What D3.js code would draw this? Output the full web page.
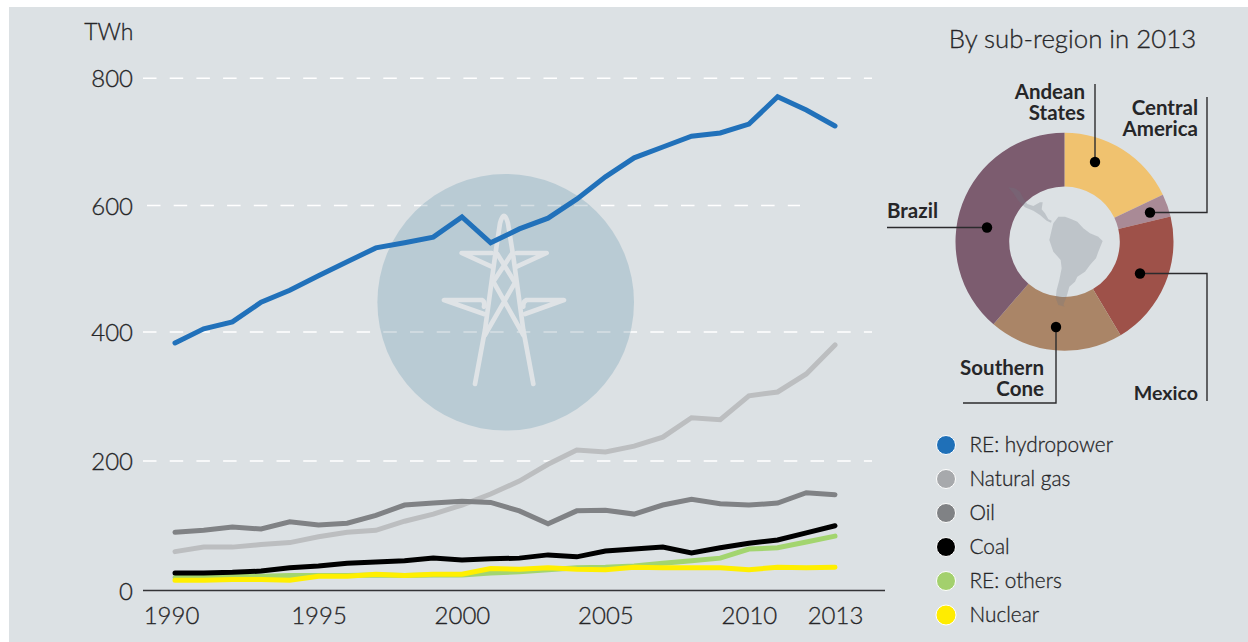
<!DOCTYPE html>
<html><head><meta charset="utf-8">
<style>
html,body{margin:0;padding:0;background:#fff;overflow:hidden}
text{font-family:Lato,"Open Sans",sans-serif;fill:#262628}
.lt{stroke:#262628;stroke-width:0.3px}
</style>
<script src="https://cdnjs.cloudflare.com/ajax/libs/d3/7.8.5/d3.min.js"></script>
</head><body><svg id="c" width="1248" height="642"></svg>
<script>
const years = d3.range(1990, 2014);
const hydro = [383,405,416,447,466,489,511,533,541,550,582,541,563,580,610,645,675,692,709,714,728,771,750,725];
const gas = [60,67,67,71,74,83,90,93,107,118,132,149,169,195,217,214,223,237,267,264,301,307,335,380];
const oil = [90,93,98,95,106,101,104,116,132,135,138,136,123,103,123,124,118,132,141,134,132,135,151,148];
const coal = [27,27,28,30,35,38,42,44,46,50,47,49,50,55,52,61,64,67,58,66,73,78,89,100];
const others = [20,21,22,22,23,23,23,24,23,24,24,27,29,32,35,36,38,42,46,50,64,66,75,84];
const nuclear = [16,16,17,17,16,22,22,25,23,25,25,34,33,35,33,32,36,35,35,35,32,36,35,36];
const yTicks = [0,200,400,600,800];
const yPixels = [590.5,461,332,205.5,78.3];
const xTicks = [1990,1995,2000,2005,2010,2013];
const gridEnds = {200:872,400:872,600:800,800:872};
const legendNames = ["RE: hydropower","Natural gas","Oil","Coal","RE: others","Nuclear"];
const legendColors = ["#1f70b8","#a7a9ac","#808285","#000000","#a3d06d","#ffec00"];
const regions = ["Andean States","Central America","Mexico","Southern Cone","Brazil"];
const shares = [17.9,3.4,20.1,19.9,38.7];
const regionColors = ["#f0c26f","#a98a96","#9e5149","#aa8567","#7c5c6f"];

const svg = d3.select("#c");
svg.append("rect").attr("x",9).attr("y",7).attr("width",1239).attr("height",635).attr("fill","#dce1e4");

const x = d3.scaleLinear().domain([1990,2013]).range([175,835]);
const y = d3.scaleLinear().domain(yTicks).range(yPixels);

function grid(g, color){
  g.selectAll("line").data(yTicks.slice(1)).join("line")
   .attr("x1",d=>d===600?147:143).attr("x2",d=>gridEnds[d])
   .attr("y1",d=>y(d)).attr("y2",d=>y(d))
   .attr("stroke",color).attr("stroke-width",1.4).attr("stroke-dasharray","13.5 13.2");
}
grid(svg.append("g"),"#ffffff");

// watermark circle + pylon
const cx=505.7, cy=302.3, cr=128.3;
svg.append("circle").attr("cx",cx).attr("cy",cy).attr("r",cr).attr("fill","#b9cbd4");
svg.append("clipPath").attr("id","cc").append("circle").attr("cx",cx).attr("cy",cy).attr("r",cr);
grid(svg.append("g").attr("clip-path","url(#cc)"),"#d6dfe4");
const pylon = [
 "M345 672L375 510L405 290L420 190Q432 145 444 190L460 290L490 510L520 672",
 "M395 320L305 279H395M470 320L560 279H470",
 "M372 462L252 420H365Q376 425 372 440M495 462L612 420H500Q488 425 490 440",
 "M375 525L465 368L412 282M490 525L400 365L455 282"
];
svg.append("g").attr("transform","translate(360,160) scale(0.3333)")
  .selectAll("path").data(pylon).join("path").attr("d",d=>d)
  .attr("fill","none").attr("stroke","#dfe3e6").attr("stroke-width",14)
  .attr("stroke-linecap","round").attr("stroke-linejoin","round");

// axes
const yAxis = d3.axisLeft(y).tickValues(yTicks).tickSize(0).tickPadding(0);
const gy = svg.append("g").attr("transform","translate(133,0)").call(yAxis);
gy.select(".domain").remove();
gy.selectAll("text").attr("class","lt").attr("font-size",24).style("font-family","Lato,sans-serif").attr("dy","0.36em").attr("font-weight",300);

svg.append("line").attr("x1",143).attr("x2",885).attr("y1",590.5).attr("y2",590.5).attr("stroke","#333336").attr("stroke-width",1.6);

const xAxis = d3.axisBottom(x).tickValues(xTicks).tickFormat(d3.format("d")).tickSize(0).tickPadding(0);
const gx = svg.append("g").attr("transform","translate(0,607)").call(xAxis);
gx.select(".domain").remove();
gx.selectAll("text").attr("class","lt").attr("font-size",24).attr("y",0).attr("dy","0.72em").attr("font-weight",300).style("font-family","Lato,sans-serif");
gx.selectAll("text").filter(d=>d===1990).attr("dx",-4);

svg.append("text").attr("class","lt").attr("x",133.5).attr("y",39.5).attr("text-anchor","end").attr("font-size",23).attr("font-weight",300).text("TWh");

// lines
const line = d3.line().x((d,i)=>x(years[i])).y(d=>y(d));
[[gas,"#bcbec0"],[oil,"#808285"],[others,"#a3d56f"],[coal,"#000000"],[nuclear,"#ffef00"],[hydro,"#2171ba"]].forEach(([s,c])=>{
  svg.append("path").datum(s).attr("d",line).attr("fill","none").attr("stroke",c)
    .attr("stroke-width",5).attr("stroke-linecap","round").attr("stroke-linejoin","miter");
});

// title
svg.append("text").attr("class","lt").attr("x",1072.5).attr("y",47.5).attr("text-anchor","middle").attr("font-size",25.8).attr("font-weight",300).text("By sub-region in 2013");

// donut
const dx=1064.5, dy=241.7;
const pie = d3.pie().sort(null).value(d=>d);
const arc = d3.arc().innerRadius(55.3).outerRadius(109);
svg.append("g").attr("transform",`translate(${dx},${dy})`)
  .selectAll("path").data(pie(shares)).join("path").attr("d",arc).attr("fill",(d,i)=>regionColors[i]);

// map
const sa="M205 140L225 140L245 148L262 155L280 175L300 190L325 200L338 213L325 245L318 265L300 285L285 305L262 320L255 335L238 350L232 372L228 385L220 405L225 410L205 405L197 385L200 360L208 330L215 295L212 270L190 245L178 210L185 180L190 160Z";
const ca="M55 52L75 55L90 65L100 85L112 102L130 108L150 97L158 97L155 118L165 130L175 148L185 152L183 158L170 152L150 135L130 122L105 112L85 92L70 70Z";
svg.append("g").attr("transform","translate(990,170) scale(0.3333)")
  .selectAll("path").data([sa,ca]).join("path").attr("d",d=>d).attr("fill","rgb(110,120,130)").attr("fill-opacity",0.27);

// leaders
const leaders = [
 {pts:[[1095,84],[1095,162]],dot:[1095,162]},
 {pts:[[1150,212.5],[1207,212.5],[1207,97]],dot:[1150,212.5]},
 {pts:[[1140,273.5],[1207,273.5],[1207,401]],dot:[1140,273.5]},
 {pts:[[1056,327],[1056,403],[963,403]],dot:[1056,327]},
 {pts:[[987,227.5],[887,227.5]],dot:[987,227.5]}
];
leaders.forEach(l=>{
  svg.append("path").attr("d",d3.line()(l.pts)).attr("fill","none").attr("stroke","#2b2b2d").attr("stroke-width",1.4);
  svg.append("circle").attr("cx",l.dot[0]).attr("cy",l.dot[1]).attr("r",5.2).attr("fill","#000");
});
const labels = [
 {x:1085,y:99,t:["Andean","States"],s:20.5},
 {x:1198,y:115,t:["Central","America"],s:20.5},
 {x:1198,y:400,t:["Mexico"],s:19.6},
 {x:1044,y:375,t:["Southern","Cone"],s:20.5},
 {x:938,y:218,t:["Brazil"],s:20.5}
];
labels.forEach(l=>{
  const t = svg.append("text").attr("text-anchor","end").attr("font-size",l.s).attr("font-weight",700);
  l.t.forEach((s,i)=>t.append("tspan").attr("x",l.x).attr("y",l.y+i*20.5).text(s));
});

// legend
const lg = svg.append("g").selectAll("g").data(legendNames).join("g")
  .attr("transform",(d,i)=>`translate(0,${445+i*34})`);
lg.append("circle").attr("cx",946).attr("r",(d,i)=>i===5?10:9.5).attr("fill",(d,i)=>legendColors[i]).attr("stroke","#fff").attr("stroke-width",1);
lg.append("text").attr("class","lt").attr("x",969.5).attr("y",7).attr("font-size",20.8).attr("font-weight",300).text(d=>d);
</script></body></html>
